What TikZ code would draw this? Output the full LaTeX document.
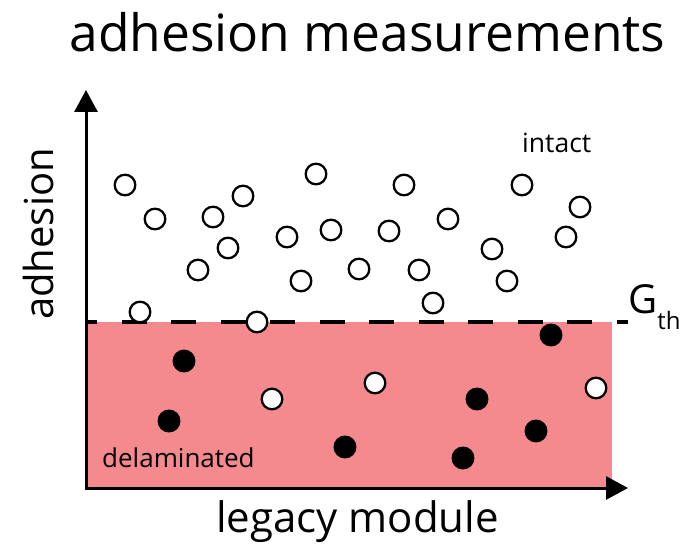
\documentclass[tikz,border=0pt]{standalone}
\usepackage{fontspec}
\setmainfont{Open Sans}
\usepackage{xcolor}
\usetikzlibrary{arrows.meta}
\definecolor{delampink}{RGB}{244,137,142}

\begin{document}
\begin{tikzpicture}[x=1pt,y=-1pt,
    axis/.style={line width=3pt,-{Triangle[length=22pt,width=23pt]}},
    thline/.style={line width=3.5pt,dash pattern=on 25pt off 24.5pt,dash phase=14pt},
    intact/.style={circle,draw,fill=white,line width=2.3pt,minimum size=20.6pt,inner sep=0pt},
    failed/.style={intact,fill=black}]
    \useasboundingbox (0,0) rectangle (686,548);

    % Title
    \node[anchor=base,font=\fontsize{51.5}{60}\selectfont] (title) at (367.5,52) {adhesion measurements};

    % Delaminated region
    \fill[delampink] (86,322) rectangle (612,488);
    \node[anchor=base west,inner sep=0pt,font=\fontsize{26}{30}\selectfont] (delamlbl) at (102,467) {delaminated};

    % Axis
    \coordinate (origin) at (86,488);
    \coordinate (ytop) at (86,90);
    \coordinate (xend) at (628,488);
    \coordinate (ybottom) at (86,489.5);
    \draw[axis] (ybottom) -- (ytop);
    \draw[axis] (origin) -- (xend);
    \node[anchor=base,font=\fontsize{42}{50}\selectfont] (xlabel) at (357.5,532) {legacy module};
    \node[anchor=base west,rotate=90,inner sep=0pt,font=\fontsize{40}{48}\selectfont] (ylabel) at (53,320) {adhesion};

    % Threshold
    \coordinate (thstart) at (86,322);
    \coordinate (thend) at (628,322);
    \draw[thline] (thstart) -- (thend);
    \node[anchor=base west,inner sep=0pt,font=\fontsize{40}{48}\selectfont] (gth) at (628,313) {G\raisebox{-17pt}{\fontsize{24}{28}\selectfont th}};

    % Samples
    \node[anchor=base west,inner sep=0pt,font=\fontsize{26.5}{30}\selectfont] (intactlbl) at (522,153) {intact};
    \foreach \px/\py [count=\i] in {125/185,155/219,213/217,243/196,228/248,198/270,316/174,
        287/237,331/230,301/281,359/269,140/312,257/322,404/185,389/231,448/219,419/270,
        433/303,492/249,507/281,522/185,580/207,566/237,272/399,375/383,596/388}
        \node[intact] (open-\i) at (\px,\py) {};
    \foreach \px/\py [count=\i] in {184/361,169/421,345/447,551/335,477/399,536/431,463/458}
        \node[failed] (fail-\i) at (\px,\py) {};
\end{tikzpicture}
\end{document}
